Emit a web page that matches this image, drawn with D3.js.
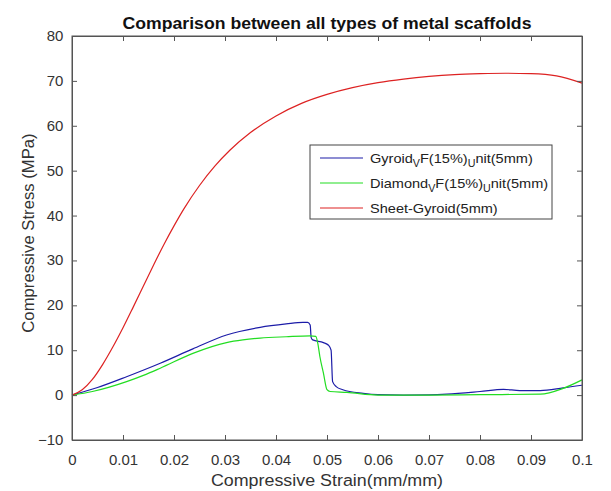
<!DOCTYPE html>
<html><head><meta charset="utf-8">
<script src="https://cdn.jsdelivr.net/npm/d3@7"></script>
<style>body{margin:0;background:#fff}svg{display:block}text{font-family:"Liberation Sans",Arial,sans-serif}</style>
</head><body><div id="chart"></div>
<script>
const xTicks=[0,0.01,0.02,0.03,0.04,0.05,0.06,0.07,0.08,0.09,0.1];
const yTicks=[-10,0,10,20,30,40,50,60,70,80];
const seriesNames=["Gyroid_VF(15%)_Unit(5mm)","Diamond_VF(15%)_Unit(5mm)","Sheet-Gyroid(5mm)"];
const gyroidStrain=[0,0.005,0.0107,0.0173,0.0237,0.0303,0.0369,0.042,0.0453,0.0462,0.0467,0.0469,0.0472,0.0493,0.0503,0.0508,0.0511,0.0518,0.0531,0.0571,0.06,0.065,0.07,0.0735,0.08,0.0846,0.0878,0.0918,0.0963,0.1];
const gyroidStress=[0,1.7,4.1,7.1,10.3,13.4,15.1,15.85,16.2,16.2,15.6,12.8,12.3,11.7,11.1,10.0,3.0,1.9,1.2,0.4,0.1,0.0,0.05,0.2,0.8,1.3,1.0,1.0,1.6,2.2];
const diamondStrain=[0,0.004,0.0107,0.014,0.0173,0.0237,0.0303,0.0335,0.0369,0.042,0.0467,0.0478,0.0482,0.0486,0.0493,0.0500,0.0506,0.0539,0.06,0.07,0.08,0.0918,0.0963,0.1];
const diamondStress=[0,0.8,3.0,4.4,6.0,9.3,11.7,12.3,12.7,13.0,13.2,13.1,11.5,8.6,4.9,1.2,0.8,0.6,0.0,0.0,0.1,0.2,1.5,3.4];
const sheetStrain=[0,0.002,0.004,0.006,0.008,0.010,0.012,0.014,0.016,0.018,0.020,0.022,0.025,0.028,0.031,0.035,0.040,0.045,0.050,0.055,0.060,0.065,0.070,0.075,0.080,0.085,0.090,0.095,0.1];
const sheetStress=[0,1.2,3.5,6.8,10.7,15.0,19.6,24.3,29.0,33.5,37.7,41.6,46.7,51.0,54.6,58.5,62.2,65.0,67.0,68.5,69.6,70.4,71.0,71.4,71.6,71.7,71.6,71.1,69.5];
const colors=["#1c1ca8","#22dd22","#dd2222"];

const W=611,H=491,L=72,R=582,T=36,B=440,SX=1.07;
const svg=d3.select("#chart").append("svg").attr("width",W).attr("height",H);
const x=d3.scaleLinear().domain([0,0.1]).range([L,R]);
const y=d3.scaleLinear().domain([-10,80]).range([B,T]);
const axisCol="#555", txtCol="#333";

const series=[
 {name:seriesNames[0],xs:gyroidStrain,ys:gyroidStress,c:colors[0]},
 {name:seriesNames[1],xs:diamondStrain,ys:diamondStress,c:colors[1]},
 {name:seriesNames[2],xs:sheetStrain,ys:sheetStress,c:colors[2]}
];
const line=d3.line().x(d=>x(d[0])).y(d=>y(d[1])).curve(d3.curveMonotoneX);
series.forEach(s=>{
  svg.append("path").datum(s.xs.map((v,i)=>[v,s.ys[i]]))
    .attr("d",line).attr("fill","none").attr("stroke",s.c).attr("stroke-width",1.2);
});

// axes (ticks inward, box)
const gx=svg.append("g").attr("transform",`translate(0,${B})`)
  .call(d3.axisBottom(x).tickValues(xTicks).tickSizeInner(-5).tickSizeOuter(0).tickPadding(15).tickFormat(d=>d3.format("~g")(d)));
const gxt=svg.append("g").attr("transform",`translate(0,${T})`)
  .call(d3.axisTop(x).tickValues(xTicks).tickSizeInner(-5).tickSizeOuter(0).tickFormat(""));
const gy=svg.append("g").attr("transform",`translate(${L},0)`)
  .call(d3.axisLeft(y).tickValues(yTicks).tickSizeInner(-5).tickSizeOuter(0).tickPadding(8));
const gyr=svg.append("g").attr("transform",`translate(${R},0)`)
  .call(d3.axisRight(y).tickValues(yTicks).tickSizeInner(-5).tickSizeOuter(0).tickFormat(""));
[gx,gxt,gy,gyr].forEach(g=>{
  g.selectAll(".domain").attr("stroke",axisCol);
  g.selectAll(".tick line").attr("stroke",axisCol);
  g.selectAll("text").attr("fill",txtCol).style("font-size","14px")
    .style("font-family","'Liberation Sans',Arial,sans-serif")
    .attr("transform",`scale(${SX},1)`);
});
svg.append("rect").attr("x",L).attr("y",T).attr("width",R-L).attr("height",B-T)
  .attr("fill","none").attr("stroke",axisCol).attr("stroke-width",1);

// title and labels
svg.append("text").attr("transform",`translate(${(L+R)/2},29) scale(${SX},1)`).attr("text-anchor","middle")
  .style("font-weight","bold").style("font-size","16.5px").attr("fill","#111")
  .text("Comparison between all types of metal scaffolds");
svg.append("text").attr("transform",`translate(${(L+R)/2},486) scale(${SX},1)`).attr("text-anchor","middle")
  .style("font-size","16.7px").attr("fill",txtCol).text("Compressive Strain(mm/mm)");
svg.append("text").attr("transform",`translate(34,${(T+B)/2-5}) rotate(-90)`).attr("text-anchor","middle")
  .style("font-size","16.7px").attr("fill",txtCol).text("Compressive Stress (MPa)");

// legend
const lg=svg.append("g");
lg.append("rect").attr("x",310).attr("y",145).attr("width",242).attr("height",74)
  .attr("fill","#fff").attr("stroke","#444").attr("stroke-width",1);
series.forEach((s,i)=>{
  const yy=158+i*25;
  lg.append("line").attr("x1",320).attr("x2",363).attr("y1",yy).attr("y2",yy).attr("stroke",s.c).attr("stroke-width",1.2);
  const t=lg.append("text").attr("transform",`translate(370,${yy+4.5}) scale(${SX},1)`)
    .style("font-size","13.6px").attr("fill","#222");
  const parts=s.name.split(/_(.)/);
  parts.forEach((p,k)=>{
    if(k%2===1){
      t.append("tspan").attr("dy",4).style("font-size","10px").text(p);
    } else {
      const ts=t.append("tspan").text(p);
      if(k>0) ts.attr("dy",-4);
    }
  });
});
</script></body></html>
